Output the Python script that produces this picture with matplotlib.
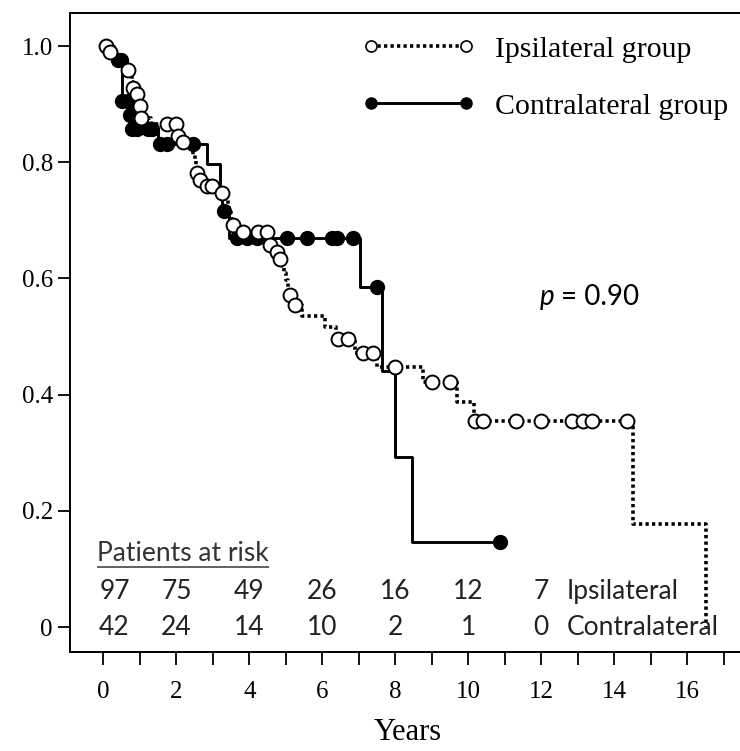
#!/usr/bin/env python3
"""Kaplan-Meier curves: ipsilateral vs contralateral group, with patients at risk."""

import matplotlib
matplotlib.use('Agg')
import matplotlib.pyplot as plt
from matplotlib.lines import Line2D
import numpy as np

# --- data ------------------------------------------------------------------
# step times (years) and survival after each step
ipsi_times = [0.0, 0.15, 0.3, 0.45, 0.6, 0.72, 0.78, 0.8, 0.9, 0.95, 0.98,
              1.02, 1.03, 1.3, 2.03, 2.05, 2.15, 2.4, 2.45, 2.5, 2.53, 2.55,
              2.6, 2.75, 3.1, 3.35, 3.4, 3.45, 3.5, 3.53, 3.7, 4.5, 4.55,
              4.7, 4.8, 4.9, 4.95, 5.0, 5.05, 5.08, 5.2, 5.45, 6.07, 6.38,
              6.9, 7.5, 8.75, 9.7, 10.15, 14.5, 16.5]
ipsi_surv = [1.0, 0.99, 0.979, 0.969, 0.959, 0.948, 0.938, 0.928, 0.918,
             0.907, 0.897, 0.887, 0.876, 0.866, 0.855, 0.845, 0.835, 0.824,
             0.813, 0.803, 0.792, 0.781, 0.77, 0.759, 0.748, 0.737, 0.726,
             0.714, 0.703, 0.692, 0.68, 0.669, 0.658, 0.646, 0.634, 0.622,
             0.61, 0.598, 0.585, 0.572, 0.554, 0.536, 0.516, 0.495, 0.472,
             0.447, 0.421, 0.388, 0.355, 0.177, 0.0]
ipsi_censor = [0.07, 0.18, 0.68, 0.82, 0.91, 1.0, 1.03, 1.73, 2.0, 2.05,
               2.19, 2.56, 2.65, 2.83, 2.97, 3.24, 3.56, 3.83, 4.24, 4.47,
               4.56, 4.75, 4.84, 5.11, 5.25, 6.43, 6.71, 7.12, 7.38, 7.99,
               9.0, 9.5, 10.18, 10.4, 11.3, 12.0, 12.83, 13.15, 13.38, 14.34]

contra_times = [0.0, 0.3, 0.5, 0.7, 0.75, 1.5, 2.85, 3.2, 3.25, 3.45, 7.03,
                7.62, 7.98, 8.45]
contra_surv = [1.0, 0.976, 0.905, 0.882, 0.858, 0.832, 0.797, 0.758, 0.716,
               0.669, 0.586, 0.44, 0.293, 0.146]
contra_censor = [0.4, 0.47, 0.52, 0.68, 0.72, 0.77, 0.91, 1.23, 1.32, 1.55,
                 1.73, 2.46, 3.3, 3.65, 3.93, 4.2, 5.02, 5.59, 6.25, 6.41,
                 6.85, 7.49, 10.87]

risk_years = [0, 2, 4, 6, 8, 10, 12]
risk_ipsi = [97, 75, 49, 26, 16, 12, 7]
risk_contra = [42, 24, 14, 10, 2, 1, 0]

x_ticks = list(range(0, 18))
y_ticks = [0, 0.2, 0.4, 0.6, 0.8, 1.0]
y_ticklabels = ['0', '0.2', '0.4', '0.6', '0.8', '1.0']

p_text = "= 0.90"
# ---------------------------------------------------------------------------

SERIF = ['Liberation Serif', 'DejaVu Serif']
SANS = ['Lato', 'DejaVu Sans']
RISK_FS = 19
TICK_FS = 18


def step_value(times, surv, t):
    idx = np.searchsorted(times, t, side='right') - 1
    return np.asarray(surv)[idx]


fig = plt.figure(figsize=(7.4, 7.51), dpi=100)
W, H = 740, 751
ax = fig.add_axes([69.5 / W, 1 - 652 / H, (745 - 69.5) / W, (652 - 13) / H])

# curves
it = np.array(ipsi_times)
ax.step(it, ipsi_surv, where='post', color='black', lw=2.6,
        linestyle=(0, (0.9, 0.9)), dash_capstyle='butt', zorder=2)
ic = np.array(ipsi_censor)
ax.plot(ic, step_value(it, ipsi_surv, ic), 'o', ms=10, mfc='white',
        mec='black', mew=1.4, zorder=4)

ct = np.array(contra_times + [contra_censor[-1]])
cs = contra_surv + [contra_surv[-1]]
ax.step(ct, cs, where='post', color='black', lw=2.1, zorder=3)
cc = np.array(contra_censor)
ax.plot(cc, step_value(ct, cs, cc), 'o', ms=10, mfc='black', mec='black',
        zorder=3)

# axes styling
ax.set_xlim(-0.93, 17.58)
ax.set_ylim(-0.043, 1.057)
ax.spines['right'].set_visible(False)
for sp in ax.spines.values():
    sp.set_linewidth(1.4)
ax.set_xticks(x_ticks)
ax.set_xticklabels([str(v) if v % 2 == 0 else '' for v in x_ticks],
                   fontsize=TICK_FS, family=SERIF)
ax.set_yticks(y_ticks)
ax.set_yticklabels(y_ticklabels, fontsize=TICK_FS, family=SERIF)
ax.tick_params(direction='out', length=9, width=1.3)
ax.tick_params(axis='x', pad=12)
ax.tick_params(axis='y', pad=3)
ax.set_xlabel('Years', family=SERIF, fontsize=22, labelpad=11)

# legend
handles = [
    Line2D([], [], color='black', lw=2.6, linestyle=(0, (0.9, 0.9)),
           marker='o', ms=8, mfc='white', mec='black', mew=1.2),
    Line2D([], [], color='black', lw=2.1, marker='o', ms=8, mfc='black',
           mec='black'),
]
ax.legend(handles, ['Ipsilateral group', 'Contralateral group'],
          loc='upper left', bbox_to_anchor=(0.393, 1.006), frameon=False,
          numpoints=2, handlelength=3.8, handletextpad=0.65,
          labelspacing=1.0, prop={'family': SERIF, 'size': 21.5})

# p-value
ax.text(11.95, 0.568, 'p', style='italic', family=SANS, fontsize=20,
        ha='left', va='center')
ax.text(12.55, 0.568, p_text, family=SANS, fontsize=20, ha='left',
        va='center')

# patients at risk
title = ax.text(-0.17, 0.127, 'Patients at risk', family=SANS,
                fontsize=RISK_FS, ha='left', va='center', color='#333333')
for x, a, b in zip(risk_years, risk_ipsi, risk_contra):
    ax.text(x + (0.3 if x == 0 else 0), 0.062, str(a), family=SANS,
            fontsize=RISK_FS, ha='center', va='center', color='#222222')
    ax.text(x + (0.3 if x == 0 else 0), 0.0, str(b), family=SANS,
            fontsize=RISK_FS, ha='center', va='center', color='#222222')
ax.text(12.7, 0.062, 'Ipsilateral', family=SANS, fontsize=RISK_FS,
        ha='left', va='center', color='#222222')
ax.text(12.7, 0.0, 'Contralateral', family=SANS, fontsize=RISK_FS,
        ha='left', va='center', color='#222222')

# underline the table heading
fig.canvas.draw()
bb = title.get_window_extent().transformed(ax.transData.inverted())
ax.plot([bb.x0, bb.x1], [bb.y0 - 0.003, bb.y0 - 0.003], color='#555555',
        lw=1.3, solid_capstyle='butt', clip_on=False)

fig.savefig('out.png', dpi=100)
